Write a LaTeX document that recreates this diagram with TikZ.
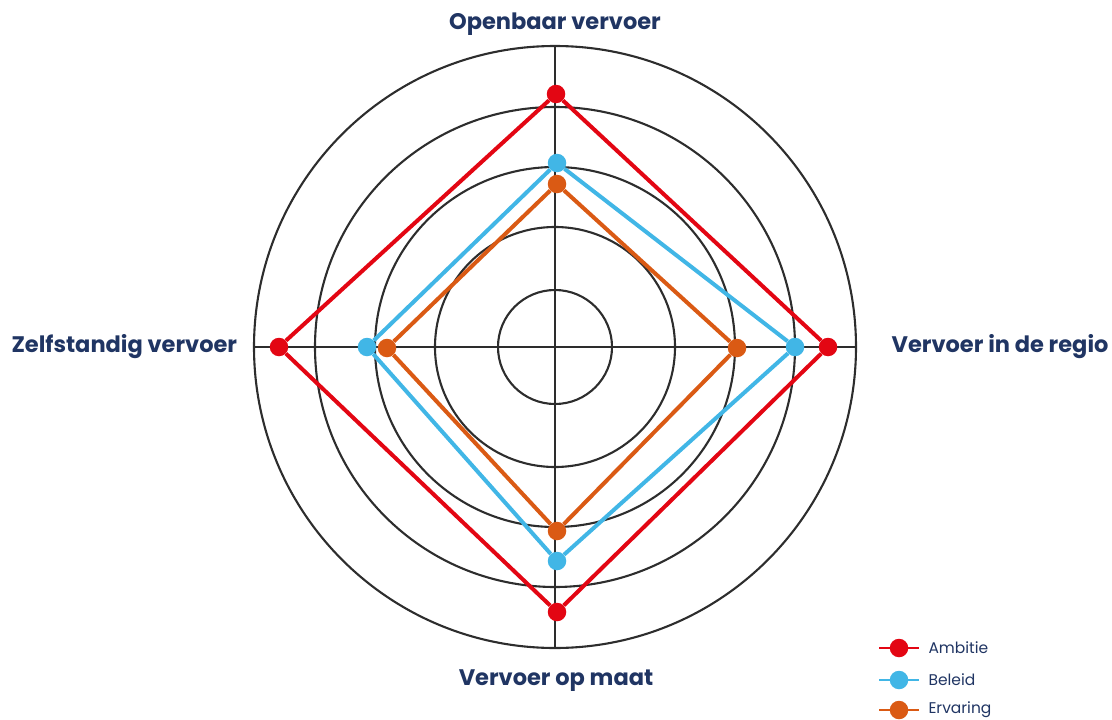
\documentclass[tikz,border=0pt]{standalone}
\usepackage{fontspec}
\setmainfont{Poppins}
\usetikzlibrary{calc}
\definecolor{ambred}{RGB}{227,6,19}
\definecolor{belblue}{RGB}{65,182,230}
\definecolor{ervorange}{RGB}{218,90,20}
\definecolor{navytext}{RGB}{32,53,99}
\definecolor{gridgray}{RGB}{45,45,45}
\begin{document}
\begin{tikzpicture}[x=1pt,y=-1pt]
                % Define styles for different elements
                \tikzstyle{ring} = [draw=gridgray, line width=2.1pt]
                \tikzstyle{spoke} = [draw=gridgray, line width=2.1pt]
                \tikzstyle{dot} = [circle, inner sep=0pt, minimum size=18.5pt]
                \tikzstyle{axislabel} = [text=navytext, font=\fontsize{22.5}{26}\selectfont\bfseries]
                \tikzstyle{legendlabel} = [text=navytext, font=\fontsize{15.5}{18}\selectfont, anchor=west]
                \tikzstyle{ambline} = [draw=ambred, line width=4pt]
                \tikzstyle{belline} = [draw=belblue, line width=4pt]
                \tikzstyle{ervline} = [draw=ervorange, line width=4pt]

                \useasboundingbox (0,0) rectangle (1112,720);

                % Draw the grid
                \coordinate (c) at (555,347);
                \foreach \r in {57,120,180,240,301}
                    \draw[ring] (c) circle[radius=\r pt];
                \coordinate (top) at ($(c)+(0,-301)$);
                \coordinate (bottom) at ($(c)+(0,301)$);
                \coordinate (left) at ($(c)+(-301,0)$);
                \coordinate (right) at ($(c)+(301,0)$);
                \draw[spoke] (top) -- (bottom);
                \draw[spoke] (left) -- (right);

                % Ambitie
                \node[dot, fill=ambred] (amb1) at (556,94) {};
                \node[dot, fill=ambred] (amb2) at (828,347) {};
                \node[dot, fill=ambred] (amb3) at (557,612) {};
                \node[dot, fill=ambred] (amb4) at (279,347) {};
                \draw[ambline] (amb1) -- (amb2);
                \draw[ambline] (amb2) -- (amb3);
                \draw[ambline] (amb3) -- (amb4);
                \draw[ambline] (amb4) -- (amb1);

                % Beleid
                \node[dot, fill=belblue] (bel1) at (557,163) {};
                \node[dot, fill=belblue] (bel2) at (795,347) {};
                \node[dot, fill=belblue] (bel3) at (557,561) {};
                \node[dot, fill=belblue] (bel4) at (367,347) {};
                \draw[belline] (bel1) -- (bel2);
                \draw[belline] (bel2) -- (bel3);
                \draw[belline] (bel3) -- (bel4);
                \draw[belline] (bel4) -- (bel1);

                % Ervaring
                \node[dot, fill=ervorange] (erv1) at (557,184) {};
                \node[dot, fill=ervorange] (erv2) at (737,348) {};
                \node[dot, fill=ervorange] (erv3) at (557,531) {};
                \node[dot, fill=ervorange] (erv4) at (387,348) {};
                \draw[ervline] (erv1) -- (erv2);
                \draw[ervline] (erv2) -- (erv3);
                \draw[ervline] (erv3) -- (erv4);
                \draw[ervline] (erv4) -- (erv1);

                % Axis labels
                \node[axislabel] (lblov) at (555,24) {Openbaar vervoer};
                \node[axislabel, anchor=east] (lblregio) at (1112,347) {Vervoer in de regio};
                \node[axislabel, anchor=west] (lblzelf) at (8,347) {Zelfstandig vervoer};
                \node[axislabel] (lblmaat) at (556,681) {Vervoer op maat};

                % Legend
                \node[dot, fill=ambred] (legamb) at (899,648) {};
                \coordinate (legamba) at (879,648);
                \coordinate (legambb) at (919,648);
                \draw[draw=ambred, line width=2.6pt] (legamba) -- (legambb);
                \node[legendlabel] (legambt) at (925,648) {Ambitie};

                \node[dot, fill=belblue] (legbel) at (899,680) {};
                \coordinate (legbela) at (879,680);
                \coordinate (legbelb) at (919,680);
                \draw[draw=belblue, line width=2.6pt] (legbela) -- (legbelb);
                \node[legendlabel] (legbelt) at (925,680) {Beleid};

                \node[dot, fill=ervorange] (legerv) at (899,710) {};
                \coordinate (legerva) at (879,710);
                \coordinate (legervb) at (919,710);
                \draw[draw=ervorange, line width=2.6pt] (legerva) -- (legervb);
                \node[legendlabel] (legervt) at (925,710) {Ervaring};
            \end{tikzpicture}
\end{document}
